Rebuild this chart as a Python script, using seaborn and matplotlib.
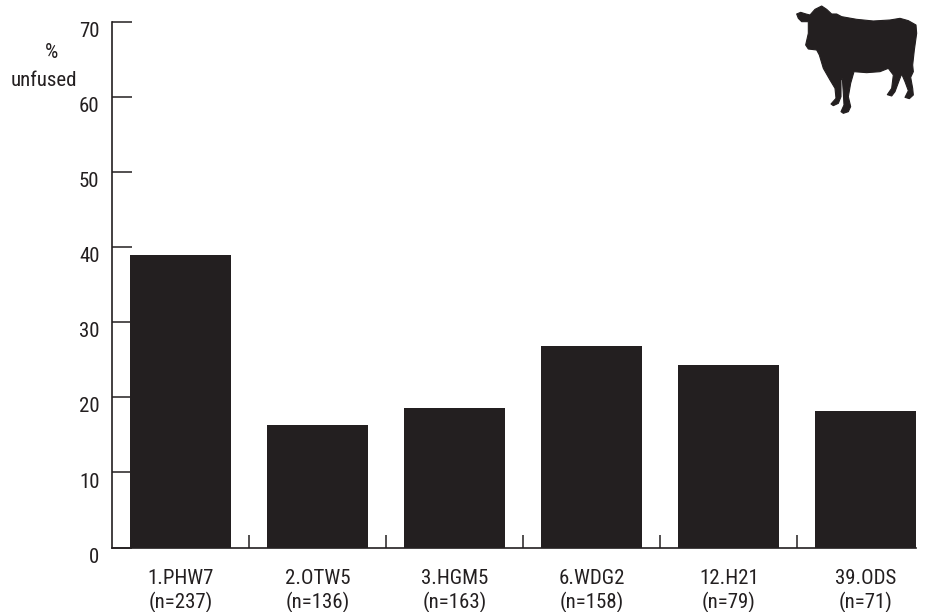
import matplotlib
matplotlib.use("Agg")
import matplotlib.pyplot as plt
from matplotlib import font_manager as fm
from matplotlib.patches import Polygon
from matplotlib.transforms import ScaledTranslation
import pandas as pd
import seaborn as sns

categories = ["1.PHW7", "2.OTW5", "3.HGM5", "6.WDG2", "12.H21", "39.ODS"]
sample_sizes = ["(n=237)", "(n=136)", "(n=163)", "(n=158)", "(n=79)", "(n=71)"]
percent_unfused = [39.0, 16.3, 18.6, 26.8, 24.3, 18.2]
y_ticks = [0, 10, 20, 30, 40, 50, 60, 70]

INK = "#231f20"
W, H = 928, 612
FS = 15

sns.set_theme(style="white")
names = {f.name for f in fm.fontManager.ttflist}
preferred = ["Liberation Sans Narrow", "Roboto Condensed", "Open Sans Condensed", "Roboto"]
plt.rcParams["font.family"] = [n for n in preferred if n in names] + ["DejaVu Sans"]

fig = plt.figure(figsize=(W / 100, H / 100), dpi=100, facecolor="white")
ax = fig.add_axes([112 / W, (H - 547.5) / H, (916 - 112) / W, (547.5 - 22) / H])

df = pd.DataFrame({"cat": categories, "pct": percent_unfused})
sns.barplot(data=df, x="cat", y="pct", color=INK, saturation=1, width=0.737, ax=ax, linewidth=0)

ax.set_xlim(-0.5, 5.365)
ax.set_ylim(0, 70)
ax.set_xlabel("")
ax.set_ylabel("")
sns.despine(ax=ax)
for s in ("left", "bottom"):
    ax.spines[s].set_color(INK)
    ax.spines[s].set_linewidth(1.2)

ax.set_xticks(range(len(categories)))
ax.set_xticklabels([f"{c}\n{n}" for c, n in zip(categories, sample_sizes)],
                   fontsize=FS, color=INK, linespacing=1.22)
ax.tick_params(axis="x", which="major", length=0, pad=15.5)
ax.set_xticks([i + 0.5 for i in range(len(categories) - 1)], minor=True)
ax.tick_params(axis="x", which="minor", direction="in", length=9.4, width=1.1, color=INK, bottom=True)

ax.set_yticks(y_ticks)
ax.tick_params(axis="y", direction="in", length=14.4, width=1.1, color=INK, left=True,
               labelsize=FS, labelcolor=INK, pad=9)
shift = ScaledTranslation(0, -5.5 / 72, fig.dpi_scale_trans)
for lab in ax.get_yticklabels():
    lab.set_transform(lab.get_transform() + shift)

fig.text(52 / W, 1 - 53 / H, "%", ha="center", va="center", fontsize=FS, color=INK)
fig.text(43.5 / W, 1 - 80 / H, "unfused", ha="center", va="center", fontsize=FS, color=INK)

# Cow silhouette (decorative), outline in pixels of a 3x view of its corner
cow = [(50,42),(62,37),(78,42),(90,45),(105,28),(125,18),(140,28),(155,42),(170,42),(185,50),
       (230,58),(280,63),(330,60),(360,55),(385,62),(408,75),(410,100),(403,150),(398,195),(400,215),
       (392,232),(398,265),(400,285),(388,296),(375,292),(385,272),(375,245),(365,222),(358,240),
       (345,275),(335,288),(322,284),(335,265),(340,225),(325,205),(300,215),(260,218),(222,215),
       (212,250),(205,290),(212,320),(205,335),(190,340),(183,335),(192,315),(190,280),(187,235),
       (183,240),(183,290),(175,310),(160,317),(153,312),(168,295),(165,265),(150,240),(130,205),
       (118,165),(110,150),(85,147),(77,135),(85,100),(85,65),(65,65),(55,55)]
pts = [((780 + x / 3) / W, 1 - (y / 3) / H) for x, y in cow]
fig.add_artist(Polygon(pts, closed=True, transform=fig.transFigure, facecolor=INK,
                       edgecolor=INK, linewidth=0.8, joinstyle="round"))

fig.savefig("out.png", dpi=100, facecolor="white")
